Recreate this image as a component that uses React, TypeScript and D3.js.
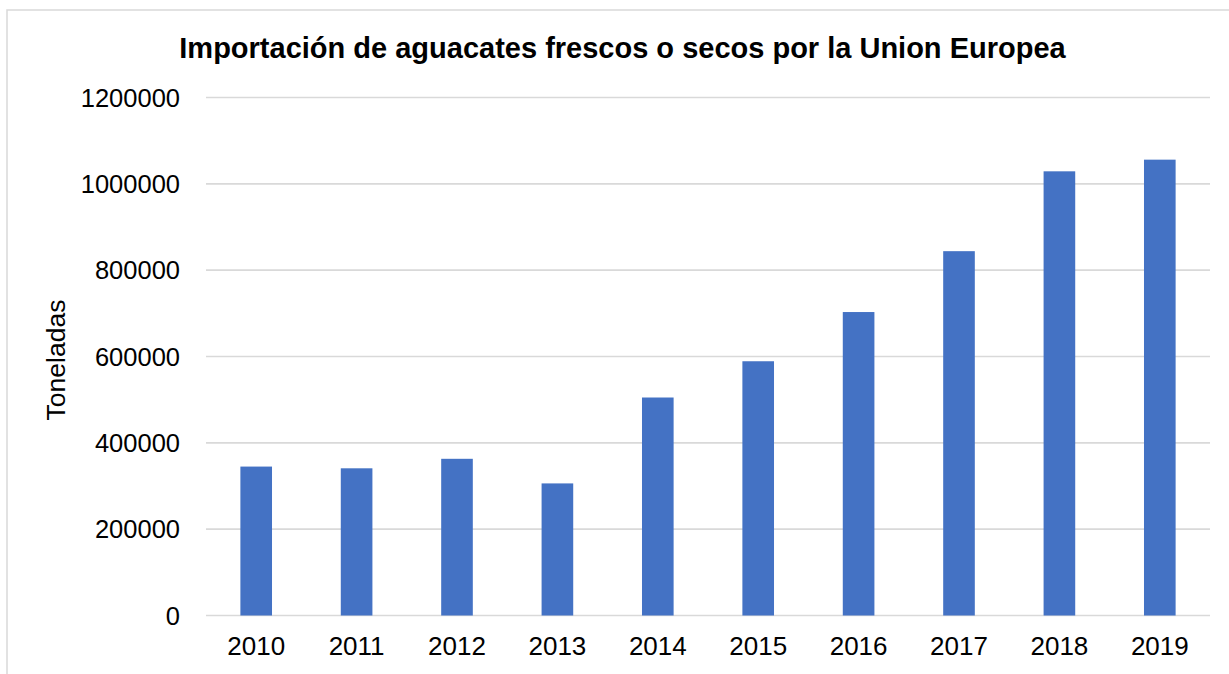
import React, { useEffect, useRef } from "react";
import * as d3 from "d3";

const years = ["2010", "2011", "2012", "2013", "2014", "2015", "2016", "2017", "2018", "2019"];
const tonnes = [345000, 341000, 363000, 306000, 505000, 589000, 703000, 844000, 1029000, 1056000];
const yTicks = [0, 200000, 400000, 600000, 800000, 1000000, 1200000];
const titleText = "Importación de aguacates frescos o secos por la Union Europea";
const yAxisLabel = "Toneladas";

const W = 1229;
const H = 674;
const M = { left: 206, right: 1210, top: 97.5, bottom: 615.5 };
const FONT = "'Liberation Sans', Arial, sans-serif";

export default function App() {
  const ref = useRef<SVGSVGElement | null>(null);

  useEffect(() => {
    const svg = d3.select(ref.current);
    svg.selectAll("*").remove();

    const x = d3.scaleBand<string>().domain(years).range([M.left, M.right]).paddingInner(0.685).paddingOuter(0.3425);
    const y = d3.scaleLinear().domain([0, 1200000]).range([M.bottom, M.top]);

    svg.append("rect").attr("x", 0).attr("y", 0).attr("width", W).attr("height", H).attr("fill", "#ffffff");
    // chart frame
    svg.append("path")
      .attr("d", `M7,${H} L7,10 L${W},10`)
      .attr("fill", "none")
      .attr("stroke", "#d9d9d9")
      .attr("stroke-width", 1.5);

    // gridlines
    svg.append("g").selectAll("line").data(yTicks).join("line")
      .attr("x1", M.left).attr("x2", M.right)
      .attr("y1", (d) => y(d)).attr("y2", (d) => y(d))
      .attr("stroke", "#d9d9d9").attr("stroke-width", 1.6);

    // y tick labels
    svg.append("g").selectAll("text").data(yTicks).join("text")
      .attr("x", 180).attr("y", (d) => y(d))
      .attr("dy", "0.36em")
      .attr("text-anchor", "end")
      .attr("font-family", FONT).attr("font-size", 25.5).attr("fill", "#000")
      .text((d) => String(d));

    // bars
    svg.append("g").selectAll("rect").data(years).join("rect")
      .attr("x", (d) => x(d) as number)
      .attr("width", x.bandwidth())
      .attr("y", (_d, i) => y(tonnes[i]))
      .attr("height", (_d, i) => y(0) - y(tonnes[i]))
      .attr("fill", "#4472c4");

    // x labels
    svg.append("g").selectAll("text").data(years).join("text")
      .attr("x", (d) => (x(d) as number) + x.bandwidth() / 2)
      .attr("y", 655)
      .attr("text-anchor", "middle")
      .attr("font-family", FONT).attr("font-size", 26).attr("fill", "#000")
      .text((d) => d);

    // title
    svg.append("text")
      .attr("x", 622.5).attr("y", 58)
      .attr("text-anchor", "middle")
      .attr("font-family", FONT).attr("font-weight", "bold").attr("font-size", 29).attr("fill", "#000")
      .text(titleText);

    // y axis label
    svg.append("text")
      .attr("transform", `translate(65,360) rotate(-90)`)
      .attr("text-anchor", "middle")
      .attr("font-family", FONT).attr("font-size", 26.5).attr("fill", "#000")
      .text(yAxisLabel);
  }, []);

  return (
    <svg
      ref={ref}
      width={W}
      height={H}
      style={{ position: "absolute", left: 0, top: 0, display: "block" }}
    />
  );
}
